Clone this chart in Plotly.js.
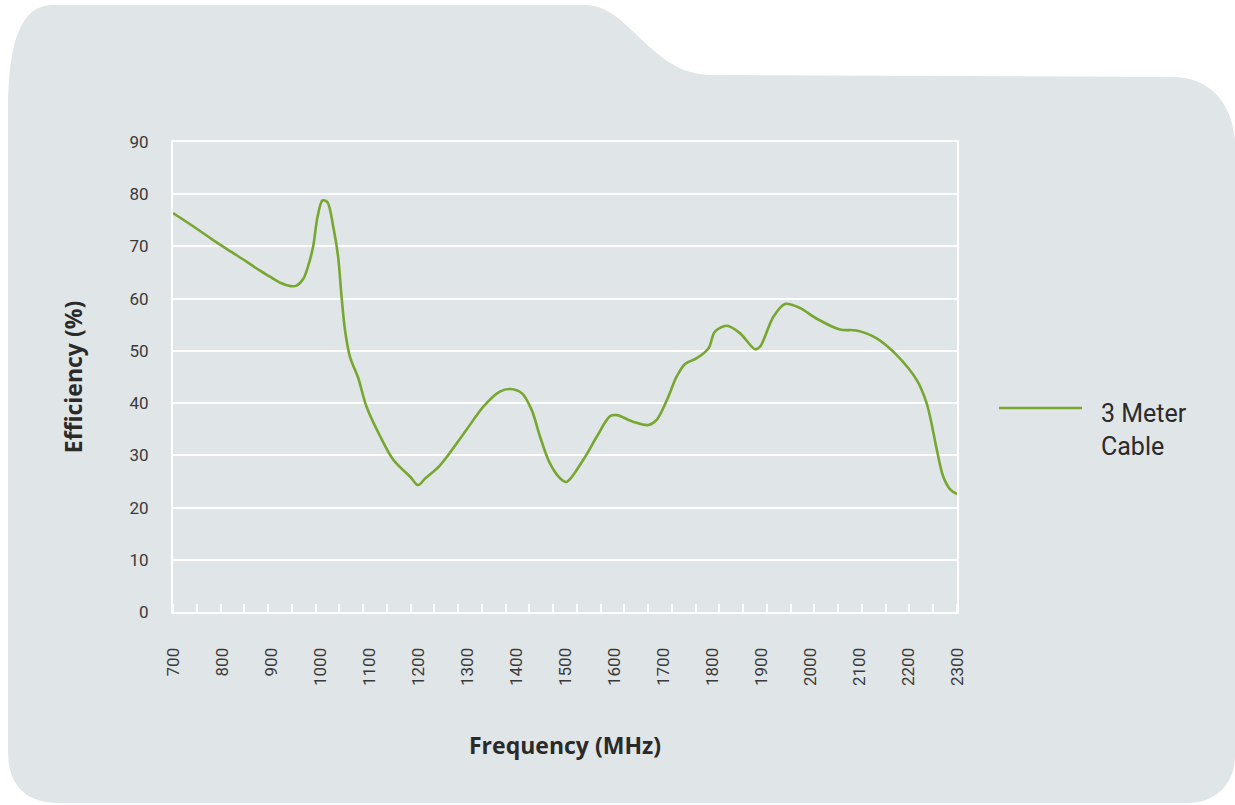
<!DOCTYPE html>
<html>
<head>
<meta charset="utf-8">
<script src="https://cdn.plot.ly/plotly-3.0.1.min.js"></script>
<style>
  html, body { margin: 0; padding: 0; background: #ffffff; }
  #chart { width: 1235px; height: 805px; }
</style>
</head>
<body>
<div id="chart"></div>
<script>
// ---- data ----
const seriesName = "3 Meter Cable";
const frequencyMHz = [700, 750, 782, 820, 850, 875, 898, 920, 940, 952, 966, 975, 986, 995, 1005, 1015, 1027, 1037, 1044, 1051, 1061, 1078, 1095, 1123, 1150, 1185, 1200, 1215, 1245, 1299, 1333, 1367, 1388, 1412, 1432, 1449, 1469, 1490, 1503, 1537, 1565, 1592, 1606, 1640, 1670, 1687, 1708, 1728, 1745, 1769, 1793, 1806, 1830, 1857, 1888, 1898, 1925, 1949, 1980, 2013, 2061, 2095, 2136, 2177, 2218, 2238, 2248, 2259, 2272, 2286, 2300];
const efficiencyPct = [76.4, 73.3, 71.2, 68.9, 67.1, 65.5, 64.2, 63.0, 62.4, 62.5, 63.8, 66.0, 70.0, 75.7, 78.8, 78.5, 73.8, 68.0, 60.4, 54.0, 48.9, 44.8, 39.3, 33.6, 29.1, 25.8, 24.3, 25.6, 28.1, 34.9, 39.3, 42.2, 42.7, 41.9, 38.7, 33.6, 28.5, 25.6, 24.9, 29.1, 33.6, 37.5, 37.7, 36.4, 35.8, 36.8, 40.6, 45.1, 47.5, 48.6, 50.5, 53.7, 54.8, 53.4, 50.3, 50.8, 56.5, 59.0, 58.2, 56.2, 54.1, 53.9, 52.4, 49.2, 44.4, 40.0, 36.1, 31.0, 25.9, 23.5, 22.6];
const xTickValues = [700, 800, 900, 1000, 1100, 1200, 1300, 1400, 1500, 1600, 1700, 1800, 1900, 2000, 2100, 2200, 2300];
const yTickValues = [0, 10, 20, 30, 40, 50, 60, 70, 80, 90];

// ---- layout geometry ----
const W = 1235, H = 805;
const M = { l: 173, r: 278, t: 142, b: 193 };
const PW = W - M.l - M.r, PH = H - M.t - M.b;
const px = v => ((v - M.l) / PW).toFixed(5);
const py = v => ((H - M.b - v) / PH).toFixed(5);
const P = (x, y) => px(x) + "," + py(y);

const green = "#77a631";
const bg = "#e0e5e7";

const bgPath =
  "M" + P(8, 110) +
  " C" + P(8, 40) + " " + P(22, 5) + " " + P(52, 5) +
  " L" + P(585, 5) +
  " C" + P(630, 5) + " " + P(650, 75) + " " + P(712, 75) +
  " L" + P(1172, 77) +
  " C" + P(1212, 77) + " " + P(1232, 105) + " " + P(1235, 140) +
  " L" + P(1235, 755) +
  " C" + P(1235, 785) + " " + P(1215, 803) + " " + P(1187, 803) +
  " L" + P(58, 803) +
  " C" + P(26, 803) + " " + P(8, 785) + " " + P(8, 752) + " Z";

const trace = {
  type: "scatter",
  mode: "lines",
  name: seriesName,
  x: frequencyMHz,
  y: efficiencyPct,
  line: { color: green, width: 2.6, shape: "spline", smoothing: 0.9 },
  showlegend: false,
  hoverinfo: "x+y"
};

const tickFont = { family: "Roboto, 'DejaVu Sans', sans-serif", size: 17, color: "#3a3a3a" };
const titleFont = { family: "'Open Sans', Roboto, sans-serif", size: 23, color: "#2a2a2a", weight: 700 };

const layout = {
  width: W, height: H,
  margin: M,
  paper_bgcolor: "#ffffff",
  plot_bgcolor: "rgba(0,0,0,0)",
  showlegend: false,
  xaxis: {
    range: [700, 2300],
    tickmode: "array",
    tickvals: xTickValues,
    ticktext: xTickValues.map(String),
    tickangle: -90,
    ticks: "",
    ticklabelstandoff: 27,
    tickfont: tickFont,
    showgrid: false,
    zeroline: false,
    showline: true, mirror: true,
    linecolor: "#ffffff", linewidth: 2,
    minor: { ticks: "inside", tick0: 700, dtick: 1600 / 33, ticklen: 8, tickwidth: 2, tickcolor: "#ffffff", showgrid: false },
    title: { text: "Frequency (MHz)", font: titleFont, standoff: 53 },
    fixedrange: true
  },
  yaxis: {
    range: [0, 90],
    tickmode: "array",
    tickvals: yTickValues,
    ticks: "",
    ticklabelstandoff: 19,
    tickfont: tickFont,
    showgrid: true, gridcolor: "#ffffff", gridwidth: 2,
    zeroline: false,
    showline: true, mirror: true,
    linecolor: "#ffffff", linewidth: 2,
    title: { text: "Efficiency (%)", font: titleFont, standoff: 40 },
    fixedrange: true
  },
  shapes: [
    { type: "path", xref: "paper", yref: "paper", path: bgPath, fillcolor: bg, line: { width: 0 }, layer: "below" },
    { type: "line", xref: "paper", yref: "paper", x0: px(999), x1: px(1082), y0: py(408), y1: py(408), line: { color: green, width: 2.6 } }
  ],
  annotations: [
    { xref: "paper", yref: "paper", x: px(1099), y: py(430), xanchor: "left", yanchor: "middle",
      text: "3 Meter<br>Cable", showarrow: false, align: "left",
      font: { family: "Roboto, 'DejaVu Sans', sans-serif", size: 25, color: "#2b2b2b" } }
  ]
};

Plotly.newPlot("chart", [trace], layout, { displayModeBar: false, staticPlot: true });
</script>
</body>
</html>
